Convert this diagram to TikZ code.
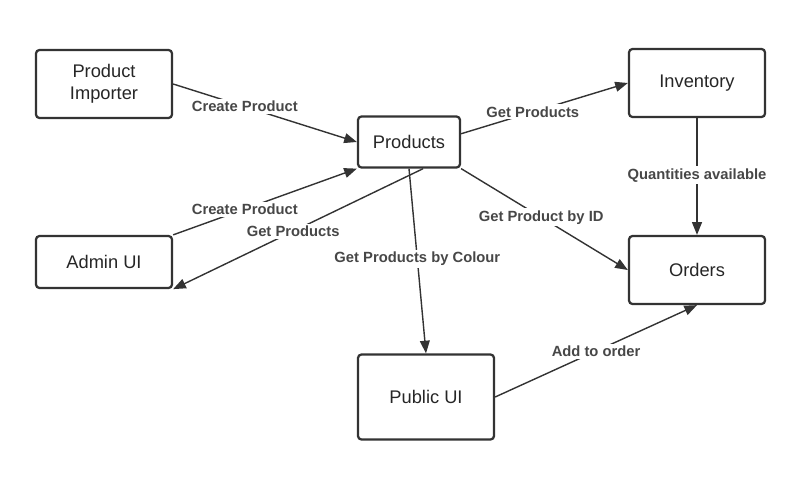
\documentclass[tikz,border=0pt]{standalone}
\usepackage{fontspec}
\setmainfont{Liberation Sans}
\usetikzlibrary{arrows.meta}
\definecolor{linegray}{HTML}{333333}
\definecolor{textgray}{HTML}{474747}

\begin{document}
\begin{tikzpicture}[x=0.025cm, y=-0.025cm,
            > = {Triangle[length=9pt, width=7pt]},
  block/.style = {draw=linegray, line width=1.6pt, rounded corners=2.5pt,
                  minimum width=3.4cm, minimum height=1.7cm, align=center,
                  text=black!85, font=\fontsize{13}{15.5}\selectfont},
   flow/.style = {draw=linegray, line width=1pt, ->},
    lbl/.style = {fill=white, inner sep=1.5pt, text=textgray,
                  font=\fontsize{10.5}{12}\selectfont\bfseries}
                        ]
\useasboundingbox (0,0) rectangle (787,480);
% blocks
    \node[block] (importer) at (104,84)  {Product\\Importer};
    \node[block, minimum width=2.55cm, minimum height=1.275cm] (products) at (409,142) {Products};
    \node[block] (inventory) at (697,83)  {Inventory};
    \node[block, minimum height=1.3cm] (admin) at (104,262) {Admin UI};
    \node[block] (orders)    at (697,270) {Orders};
    \node[block, minimum height=2.125cm] (public) at (426,397) {Public UI};
% flows
    \draw[flow] (importer.east) -- (products.west) node[lbl, pos=0.39] {Create Product};
    \draw[flow] (admin.north east) -- (products.south west) node[lbl, pos=0.39] {Create Product};
    \draw[flow] (products.-62) -- (admin.south east) node[lbl, pos=0.52] {Get Products};
    \draw[flow] (products.9) -- (inventory.west) node[lbl, pos=0.43] {Get Products};
    \draw[flow] (inventory.south) -- (orders.north) node[lbl, pos=0.49] {Quantities available};
    \draw[flow] (products.south east) -- (orders.west) node[lbl, pos=0.48] {Get Product by ID};
    \draw[flow] (products.south) -- (public.north) node[lbl, pos=0.49] {Get Products by Colour};
    \draw[flow] (public.east) -- (orders.south) node[lbl, pos=0.5] {Add to order};
\end{tikzpicture}
\end{document}
